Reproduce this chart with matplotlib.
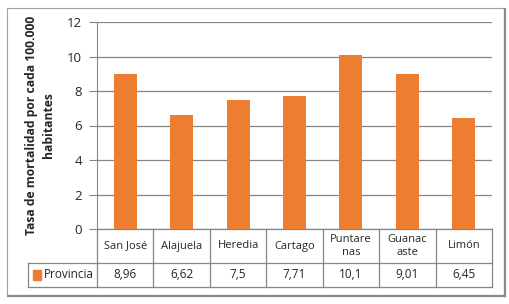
import matplotlib
matplotlib.use("Agg")
import matplotlib.pyplot as plt
from matplotlib.patches import Rectangle
from matplotlib.lines import Line2D

# datos
provincias = ["San José", "Alajuela", "Heredia", "Cartago", "Puntare\nnas", "Guanac\naste", "Limón"]
tasas = [8.96, 6.62, 7.5, 7.71, 10.1, 9.01, 6.45]
etiquetas_valor = ["8,96", "6,62", "7,5", "7,71", "10,1", "9,01", "6,45"]
serie = "Provincia"
yticks = [0, 2, 4, 6, 8, 10, 12]

naranja = "#ED7D31"
gris = "#868686"
texto = "#262626"
plt.rcParams["font.family"] = ["Open Sans", "DejaVu Sans"]

W, H = 509, 304
fig = plt.figure(figsize=(W / 100, H / 100), dpi=100)

# marco exterior
fig.add_artist(Rectangle((7 / W, 1 - 295 / H), 497 / W, 287 / H, transform=fig.transFigure,
                         fill=False, edgecolor="#a0a0a0", lw=0.8))
fig.add_artist(Line2D([505 / W, 505 / W], [1 - 296 / H, 1 - 9 / H], transform=fig.transFigure,
                      color="#8a8a8a", lw=1.6))
fig.add_artist(Line2D([8 / W, 505 / W], [1 - 296 / H, 1 - 296 / H], transform=fig.transFigure,
                      color="#8a8a8a", lw=1.6))

x0, x1, ytop, ybot = 97, 492, 22, 229
ax = fig.add_axes([x0 / W, 1 - ybot / H, (x1 - x0) / W, (ybot - ytop) / H])
x = range(len(tasas))
ax.bar(x, tasas, width=0.41, color=naranja, zorder=3)
ax.set_xlim(-0.5, len(tasas) - 0.5)
ax.set_ylim(0, 12)
ax.set_yticks(yticks)
ax.set_yticklabels([str(v) for v in yticks], fontsize=9.5, color=texto)
ax.set_xticks([])
ax.grid(axis="y", color=gris, lw=0.9, zorder=0)
for s in ["top", "right", "bottom"]:
    ax.spines[s].set_visible(False)
ax.spines["left"].set_color(gris)
ax.tick_params(axis="y", length=6, color=gris, pad=5)
ax.set_ylabel("Tasa de mortalidad por cada 100.000\nhabitantes", fontsize=8.7,
              fontweight="bold", color=texto, linespacing=1.4, labelpad=8)

# tabla de datos
alto = ybot - ytop
r1 = -(263 - ybot) / alto
r2 = -(287 - ybot) / alto
izq = -(x0 - 28) / (x1 - x0)
tr = ax.get_xaxis_transform()
lc = dict(color=gris, lw=0.9, clip_on=False)
ax.plot([-0.5, len(tasas) - 0.5], [0, 0], transform=tr, **lc)
for k in range(len(tasas) + 1):
    ax.plot([k - 0.5, k - 0.5], [0, r2], transform=tr, **lc)
ax.plot([izq, 1], [r1, r1], transform=ax.transAxes, **lc)
ax.plot([izq, 1], [r2, r2], transform=ax.transAxes, **lc)
ax.plot([izq, izq], [r1, r2], transform=ax.transAxes, **lc)
for i, (c, v) in enumerate(zip(provincias, etiquetas_valor)):
    ax.text(i, r1 / 2, c, transform=tr, ha="center", va="center", fontsize=8,
            color=texto, linespacing=1.3)
    ax.text(i, (r1 + r2) / 2, v, transform=tr, ha="center", va="center", fontsize=8.5,
            color=texto)
ax.add_patch(Rectangle((izq + 0.012, (r1 + r2) / 2 - 0.022), 0.02, 0.045, transform=ax.transAxes,
                       color=naranja, clip_on=False))
ax.text(izq + 0.04, (r1 + r2) / 2, serie, transform=ax.transAxes, ha="left", va="center",
        fontsize=8.5, color=texto)

fig.savefig("out.png", dpi=100)
